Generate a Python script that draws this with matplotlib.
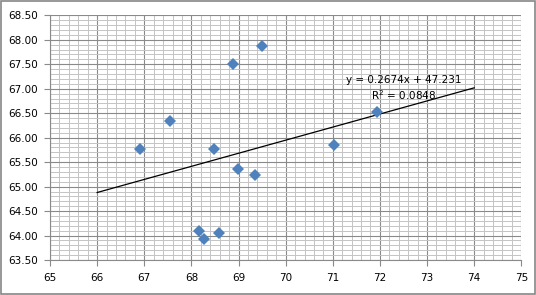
import matplotlib
matplotlib.use("Agg")
import matplotlib.pyplot as plt
import numpy as np
from matplotlib.ticker import MultipleLocator, FormatStrFormatter

# scatter data
x_vals = [66.92, 67.55, 68.49, 68.88, 69.50, 68.98, 69.34, 68.17, 68.27, 68.59, 71.03, 71.94]
y_vals = [65.77, 66.34, 65.77, 67.51, 67.88, 65.35, 65.24, 64.09, 63.93, 64.06, 65.85, 66.53]

# linear trendline as printed on the chart
slope = 0.2674
intercept = 47.231
r_squared = 0.0848
trend_x = [66, 74]

grid_major = "#8a8a8a"
grid_minor = "#c4c4c4"
marker_blue = "#4f81bd"

fig = plt.figure(figsize=(5.36, 2.95), dpi=100)
ax = fig.add_axes([0.0933, 0.1186, 0.8793, 0.8294])

ax.set_xlim(65, 75)
ax.set_ylim(63.5, 68.5)
ax.xaxis.set_major_locator(MultipleLocator(1))
ax.xaxis.set_minor_locator(MultipleLocator(0.2))
ax.yaxis.set_major_locator(MultipleLocator(0.5))
ax.yaxis.set_minor_locator(MultipleLocator(0.1))
ax.yaxis.set_major_formatter(FormatStrFormatter("%.2f"))
ax.xaxis.set_major_formatter(FormatStrFormatter("%d"))

ax.grid(which="minor", color=grid_minor, lw=0.7)
ax.grid(which="major", color=grid_major, lw=0.8)
ax.set_axisbelow(True)

for side in ["top", "right"]:
    ax.spines[side].set_visible(False)
for side in ["left", "bottom"]:
    ax.spines[side].set_color(grid_major)
    ax.spines[side].set_linewidth(0.8)

ax.tick_params(which="major", length=4, width=0.8, color=grid_major,
               labelsize=7.5, labelcolor="#000000", pad=5)
ax.tick_params(which="minor", length=0)

tx = np.array(trend_x, dtype=float)
ax.plot(tx, slope * tx + intercept, color="black", lw=0.9, zorder=3)

ax.plot(x_vals, y_vals, linestyle="none", marker="D", markersize=6.2,
        color=marker_blue, markeredgewidth=0, zorder=4)

ax.text(72.5, 67.18, f"y = {slope}x + {intercept}", ha="center", va="center",
        fontsize=7.5, zorder=5)
ax.text(72.5, 66.86, f"R$^2$ = {r_squared}", ha="center", va="center",
        fontsize=7.5, zorder=5)

# outer chart border
fig.patches.append(plt.Rectangle((0.002, 0.003), 0.996, 0.994, transform=fig.transFigure,
                                 fill=False, edgecolor="#868686", lw=1.2))

fig.savefig("out.png", dpi=100)
